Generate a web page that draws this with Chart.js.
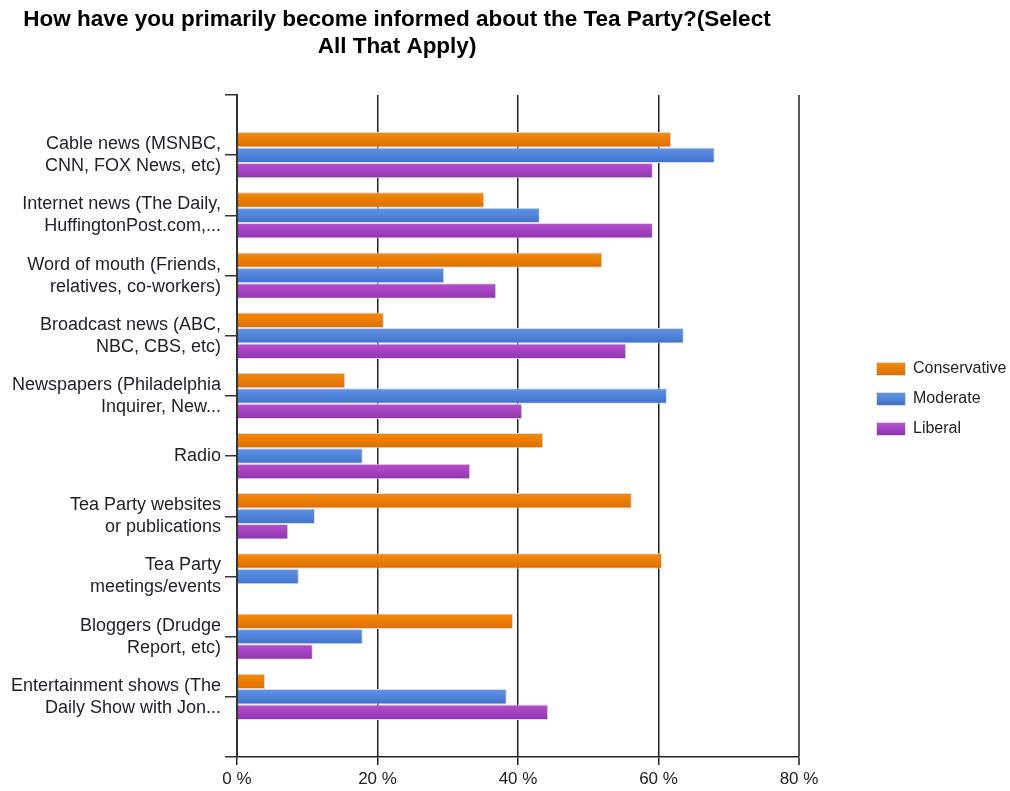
<!DOCTYPE html>
<html>
<head>
<meta charset="utf-8">
<script src="https://cdn.jsdelivr.net/npm/chart.js@4.4.1/dist/chart.umd.min.js"></script>
<style>
  html, body { margin: 0; padding: 0; background: #fff; }
  #wrap { width: 1010px; height: 791px; }
</style>
</head>
<body>
<div id="wrap"><canvas id="chart" width="1010" height="791"></canvas></div>
<script>
const categories = [
  ['Cable news (MSNBC,', 'CNN, FOX News, etc)'],
  ['Internet news (The Daily,', 'HuffingtonPost.com,...'],
  ['Word of mouth (Friends,', 'relatives, co-workers)'],
  ['Broadcast news (ABC,', 'NBC, CBS, etc)'],
  ['Newspapers (Philadelphia', 'Inquirer, New...'],
  'Radio',
  ['Tea Party websites', 'or publications'],
  ['Tea Party', 'meetings/events'],
  ['Bloggers (Drudge', 'Report, etc)'],
  ['Entertainment shows (The', 'Daily Show with Jon...']
];
const conservative = [61.8, 35.2, 52.0, 20.9, 15.4, 43.6, 56.2, 60.5, 39.3, 4.0];
const moderate     = [68.0, 43.1, 29.5, 63.6, 61.2, 17.9, 11.1, 8.8, 17.9, 38.4];
const liberal      = [59.2, 59.2, 36.9, 55.4, 40.6, 33.2, 7.3, 0, 10.8, 44.3];
const xTicks = [0, 20, 40, 60, 80];

const titleLines = ['How have you primarily become informed about the Tea Party?(Select', 'All That Apply)'];
const seriesNames = ['Conservative', 'Moderate', 'Liberal'];
const colors = [
  { top: '#f68b0c', bottom: '#dd6e00', solid: '#ec7d00' },
  { top: '#6195e8', bottom: '#3f71cb', solid: '#4f82da' },
  { top: '#b650cf', bottom: '#9033b0', solid: '#a341c0' }
];
const CAT_PCT = 0.77;
const FONT = '"Liberation Sans", Arial, sans-serif';

// blank slot top and bottom so the categories sit half a band in from the frame
const labels = [''].concat(categories, ['']);
const pad = arr => [null].concat(arr, [null]);

function barFill(ctx) {
  const c = colors[ctx.datasetIndex];
  const chart = ctx.chart;
  const y = chart.scales.y;
  if (!chart.chartArea || !y || ctx.type !== 'data') return c.solid;
  const center = y.getPixelForValue(ctx.dataIndex);
  const band = y.getPixelForValue(1) - y.getPixelForValue(0);
  const group = band * CAT_PCT;
  const h = group / 3;
  const top = center - group / 2 + ctx.datasetIndex * h;
  if (!isFinite(top)) return c.solid;
  const g = chart.ctx.createLinearGradient(0, top, 0, top + h);
  g.addColorStop(0, c.top);
  g.addColorStop(1, c.bottom);
  return g;
}

const extras = {
  id: 'extras',
  afterDraw(chart) {
    const ctx = chart.ctx;
    ctx.save();
    ctx.fillStyle = '#000';
    ctx.font = 'bold 22.5px ' + FONT;
    ctx.textAlign = 'center';
    ctx.textBaseline = 'middle';
    ctx.fillText(titleLines[0], 397, 20);
    ctx.fillText(titleLines[1], 397, 47);

    ctx.font = '16px ' + FONT;
    ctx.textAlign = 'left';
    seriesNames.forEach((name, i) => {
      const cy = 369 + i * 30;
      const g = ctx.createLinearGradient(0, cy - 6, 0, cy + 6);
      g.addColorStop(0, colors[i].top);
      g.addColorStop(1, colors[i].bottom);
      ctx.fillStyle = g;
      ctx.fillRect(877, cy - 6, 28, 12);
      ctx.strokeStyle = '#dddddd';
      ctx.lineWidth = 1;
      ctx.strokeRect(876.5, cy - 6.5, 29, 13);
      ctx.fillStyle = '#222';
      ctx.fillText(name, 913, cy);
    });
    ctx.restore();
  }
};

const dataset = (i, values) => ({
  label: seriesNames[i],
  data: pad(values),
  backgroundColor: barFill,
  borderColor: '#dcdcdc',
  borderWidth: 1,
  borderSkipped: 'start',
  categoryPercentage: CAT_PCT,
  barPercentage: 1
});

new Chart(document.getElementById('chart'), {
  type: 'bar',
  data: {
    labels: labels,
    datasets: [dataset(0, conservative), dataset(1, moderate), dataset(2, liberal)]
  },
  options: {
    indexAxis: 'y',
    responsive: false,
    animation: false,
    layout: { padding: { left: 0, right: 211, top: 95, bottom: 0 } },
    plugins: {
      legend: { display: false },
      title: { display: false },
      tooltip: { enabled: false }
    },
    scales: {
      x: {
        min: 0,
        max: 80,
        afterBuildTicks: s => { s.ticks = xTicks.map(v => ({ value: v })); },
        afterFit: s => { s.height = 34; },
        grid: {
          color: c => (c.tick && c.tick.value === 80 ? '#555' : '#222'),
          lineWidth: c => (c.tick && c.tick.value === 80 ? 2 : 1.5),
          tickLength: 8,
          drawTicks: true
        },
        border: { display: true, color: '#222', width: 1.5 },
        ticks: {
          color: '#222',
          padding: 4,
          font: { family: FONT, size: 17 },
          callback: v => v + ' %'
        }
      },
      y: {
        type: 'category',
        offset: false,
        afterFit: s => { s.width = 237; },
        grid: { offset: false, drawOnChartArea: false, drawTicks: true, tickLength: 12, color: '#333', lineWidth: 1.5 },
        border: { display: true, color: '#333', width: 2 },
        ticks: {
          color: '#1e1e2a',
          padding: 4,
          autoSkip: false,
          font: { family: FONT, size: 18, lineHeight: '22px' }
        }
      }
    }
  },
  plugins: [extras]
});
</script>
</body>
</html>
